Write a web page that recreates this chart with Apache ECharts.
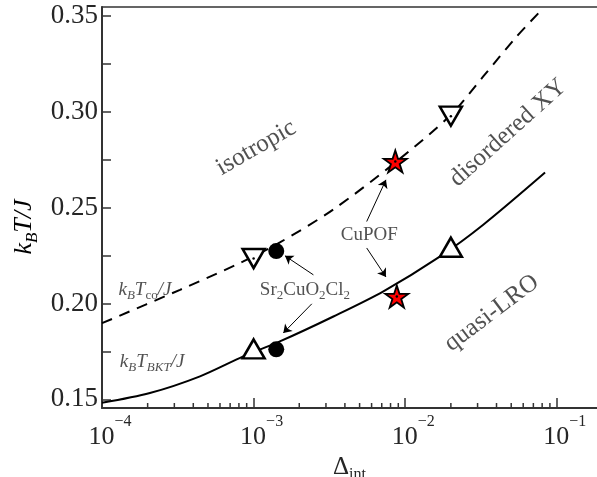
<!DOCTYPE html>
<html><head><meta charset="utf-8">
<script src="https://cdn.jsdelivr.net/npm/echarts@6/dist/echarts.min.js"></script>
<style>html,body{margin:0;padding:0;background:#fff}#c{width:597px;height:477px}</style>
</head><body><div id="c"></div>
<script>
// ---------- data ----------
const bktCurve = [[1e-4,0.1482],[2.07e-4,0.1533],[4.43e-4,0.1620],[8.55e-4,0.1724],[1.49e-3,0.1802],[3.36e-3,0.1932],[7.18e-3,0.2063],[0.0170,0.2245],[0.0327,0.2410],[0.0836,0.2682]];
const coCurve = [[1e-4,0.1897],[3.27e-4,0.2071],[8.55e-4,0.2219],[1.49e-3,0.2318],[3.36e-3,0.2490],[8.6e-3,0.2735],[0.02,0.2983],[0.0327,0.3183],[0.0543,0.3391],[0.0774,0.3521]];
const upTriangles = [[1e-3,0.1763],[0.02,0.2293]];
const downTriangles = [[1e-3,0.2234],[0.02,0.2976]];
const sr2cuo2cl2Points = [[1.41e-3,0.2273],[1.41e-3,0.1761]];
const cupofPoints = [[8.6e-3,0.2740],[8.8e-3,0.2036]];
const arrows = [
  [[5.57e-3,0.2427],[7.46e-3,0.2644]],
  [[5.57e-3,0.2289],[7.46e-3,0.2138]],
  [[2.48e-3,0.2149],[1.61e-3,0.2248]],
  [[2.42e-3,0.1998],[1.57e-3,0.1846]]
];
const xMajorTicks = [1e-4,1e-3,1e-2,1e-1];
const xMinorTicks = [2e-4,3e-4,4e-4,5e-4,6e-4,7e-4,8e-4,9e-4,2e-3,3e-3,4e-3,5e-3,6e-3,7e-3,8e-3,9e-3,2e-2,3e-2,4e-2,5e-2,6e-2,7e-2,8e-2,9e-2];
const yTickValues = [0.15,0.175,0.2,0.225,0.25,0.275,0.3,0.325,0.35];
const yLabelValues = [0.15,0.20,0.25,0.30,0.35];
const X_MIN = 1e-4, X_MAX = 0.184, Y_MIN = 0.1455, Y_MAX = 0.3545;

// annotation anchors (data space) and texts
const annotations = [
  {at:[1.04e-3,0.2811], text:'{big|isotropic}', rotate:30},
  {at:[0.0476,0.2889], text:'{big|disordered XY}', rotate:42},
  {at:[0.0372,0.1950], text:'{big|quasi-LRO}', rotate:37},
  {at:[5.80e-3,0.2358], text:'{r|CuPOF}', rotate:0},
  {at:[2.18e-3,0.2071], text:'{r|Sr}{sr|2}{r|CuO}{sr|2}{r|Cl}{sr|2}', rotate:0},
  {at:[1.92e-4,0.2071], text:'{i|k}{si|B}{i|T}{sr|co}{i|/J}', rotate:0},
  {at:[2.14e-4,0.1696], text:'{i|k}{si|B}{i|T}{si|BKT}{i|/J}', rotate:0}
];

// ---------- styling ----------
const F = 'Liberation Serif';
const C = '#262626';
const rich = {
  big:{fontFamily:F,fontSize:25,color:C},
  r:{fontFamily:F,fontSize:19,color:C,lineHeight:24},
  i:{fontFamily:F,fontSize:19,color:C,fontStyle:'italic',lineHeight:24},
  si:{fontFamily:F,fontSize:13,color:C,fontStyle:'italic',lineHeight:13,verticalAlign:'bottom'},
  sr:{fontFamily:F,fontSize:13,color:C,lineHeight:13,verticalAlign:'bottom'}
};
function starPath(){
  let d='';
  for(let k=0;k<10;k++){const r=k%2?0.382:1;const a=-Math.PI/2+k*Math.PI/5;
    d+=(k?'L':'M')+(r*Math.cos(a)).toFixed(4)+','+(r*Math.sin(a)).toFixed(4);}
  return 'path://'+d+'Z';
}

const chart = echarts.init(document.getElementById('c'));
chart.setOption({
  animation:false,
  backgroundColor:'#fff',
  grid:{left:102,right:0,top:7,bottom:69,containLabel:false,outerBoundsMode:'none'},
  xAxis:[{
    type:'log',logBase:10,min:X_MIN,max:X_MAX,position:'bottom',
    axisLine:{lineStyle:{color:'#333',width:2}},
    axisTick:{inside:true,length:10,lineStyle:{color:'#333',width:1.5}},
    splitLine:{show:false},minorTick:{show:false},
    axisLabel:{margin:6,showMaxLabel:false,
      formatter:function(v){const e=Math.round(Math.log10(v));
        if(Math.abs(Math.log10(v)-e)>1e-6) return '';
        return '{p|}{b|10}{e|\u2212'+(-e)+'}';},
      rich:{p:{width:16},b:{fontFamily:F,fontSize:26,color:C,lineHeight:36,verticalAlign:'bottom'},
            e:{fontFamily:F,fontSize:16,color:C,lineHeight:16,verticalAlign:'top'}}},
    name:'{d|\u0394}{s|int}',nameLocation:'middle',nameGap:30,
    nameTextStyle:{rich:{d:{fontFamily:F,fontSize:25,color:C,lineHeight:30},
      s:{fontFamily:F,fontSize:16,color:C,lineHeight:16,verticalAlign:'bottom'}}}
  },{
    type:'log',logBase:10,min:X_MIN,max:X_MAX,position:'top',
    axisLine:{lineStyle:{color:'#333',width:1.5}},
    axisTick:{show:false},axisLabel:{show:false},splitLine:{show:false}
  }],
  yAxis:{
    type:'value',min:Y_MIN,max:Y_MAX,
    axisLine:{show:true,lineStyle:{color:'#333',width:2}},
    axisTick:{show:true,inside:true,length:9,customValues:yTickValues,lineStyle:{color:'#333',width:1.5}},
    splitLine:{show:false},
    axisLabel:{customValues:yLabelValues,margin:4,fontFamily:F,fontSize:27,color:C,
      formatter:function(v){return v.toFixed(2);}}
  },
  graphic:[{type:'text',x:24,y:227,rotation:Math.PI/2,
    style:{text:'{i|k}{s|B}{i|T/J}',align:'center',verticalAlign:'middle',
      rich:{i:{fontFamily:F,fontSize:26,fontStyle:'italic',color:C,lineHeight:34},
            s:{fontFamily:F,fontSize:17,fontStyle:'italic',color:C,lineHeight:17,verticalAlign:'bottom'}}}}],
  series:[
    {type:'custom',name:'minorTicks',coordinateSystem:'cartesian2d',silent:true,clip:false,z:3,
      data:xMinorTicks.map(v=>[v,Y_MIN]),
      renderItem:function(p,api){const pt=api.coord([api.value(0),api.value(1)]);
        return {type:'line',shape:{x1:pt[0],y1:pt[1],x2:pt[0],y2:pt[1]-5},style:{stroke:'#333',lineWidth:1.5}};}},
    {type:'line',name:'Tco',data:coCurve,showSymbol:false,smooth:0.3,z:2,
      lineStyle:{color:'#000',width:2,type:[11,8]}},
    {type:'line',name:'TBKT',data:bktCurve,showSymbol:false,smooth:0.3,z:2,
      lineStyle:{color:'#000',width:2}},
    {type:'lines',coordinateSystem:'cartesian2d',z:3,silent:true,
      symbol:['none','arrow'],symbolSize:[0,8],
      lineStyle:{color:'#000',width:1,opacity:1},
      data:arrows.map(a=>({coords:a}))},
    {type:'scatter',name:'upTri',data:upTriangles,symbol:'triangle',symbolSize:[22,19],z:4,
      itemStyle:{color:'#fff',borderColor:'#000',borderWidth:2.5,opacity:1}},
    {type:'scatter',name:'downTri',data:downTriangles,symbol:'path://M-1,-1L1,-1L0,1Z',symbolSize:[22,19],z:4,
      itemStyle:{color:'#fff',borderColor:'#000',borderWidth:2.5,opacity:1}},
    {type:'scatter',name:'Sr2CuO2Cl2',data:sr2cuo2cl2Points,symbol:'circle',symbolSize:16,z:4,
      itemStyle:{color:'#000',opacity:1}},
    {type:'scatter',name:'CuPOF',data:cupofPoints,symbol:starPath(),symbolSize:[23,22],z:4,
      itemStyle:{color:'#ff0000',borderColor:'#000',borderWidth:1.8,opacity:1}},
    {type:'scatter',name:'dots',data:downTriangles.concat(cupofPoints),symbol:'circle',symbolSize:2.5,z:5,
      itemStyle:{color:'#000',opacity:1}},
    {type:'scatter',name:'labels',symbolSize:0,z:6,silent:true,
      data:annotations.map(a=>({value:a.at,label:{show:true,position:'inside',rotate:a.rotate,
        formatter:a.text,rich:rich,align:'center',verticalAlign:'middle'}}))}
  ]
});
</script></body></html>
